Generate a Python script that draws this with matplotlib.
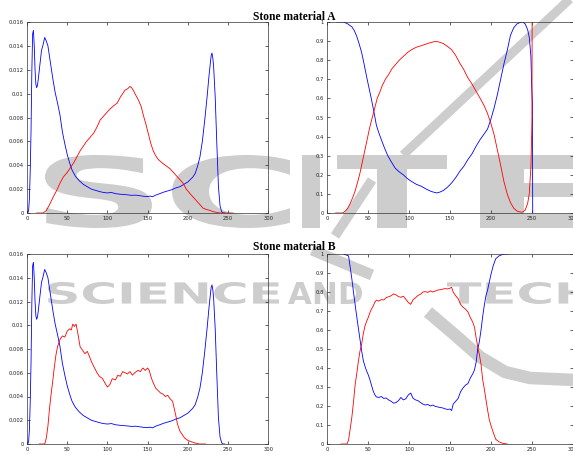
import matplotlib
matplotlib.use("Agg")
import matplotlib.pyplot as plt
import matplotlib.transforms as mtransforms
from matplotlib.font_manager import FontProperties
from matplotlib.patches import PathPatch
from matplotlib.textpath import TextPath
from matplotlib.ticker import FuncFormatter, MultipleLocator

# ---------------------------------------------------------------- data
# grey-level histogram of the background class (same in both materials)
hist_bg_x = [0, 1, 2, 3, 4, 5, 6, 7, 8, 9, 10, 11, 12, 13, 14, 16, 18, 20, 22, 24,
             26, 28, 30, 32, 35, 38, 41, 44, 47, 50, 53, 56, 60, 65, 70, 75, 80, 85, 90, 95,
             100, 105, 110, 115, 120, 125, 130, 135, 140, 145, 150, 153, 156, 160, 165, 170,
             175, 180, 185, 190, 195, 200, 203, 206, 209, 212, 215, 218, 221, 224, 226, 228,
             229, 230, 231, 232, 234, 236, 238, 240, 242, 244, 246]
hist_bg = [0, 0, 0.0002, 0.0012, 0.0035, 0.0068, 0.0118, 0.0150, 0.0153, 0.0140, 0.0120,
           0.0108, 0.0105, 0.0107, 0.0112, 0.0124, 0.0136, 0.0141, 0.0147, 0.0144,
           0.0140, 0.0131, 0.0122, 0.0113, 0.0101, 0.0092, 0.0082, 0.0068, 0.0058, 0.0049,
           0.0042, 0.0036, 0.0031, 0.0027, 0.0024, 0.0022, 0.0020, 0.0019, 0.0018, 0.00172,
           0.00168, 0.00172, 0.00162, 0.00158, 0.00155, 0.00152, 0.00148, 0.0015, 0.00145,
           0.0014, 0.00138, 0.00142, 0.00136, 0.0015, 0.00162, 0.00175, 0.00185, 0.00195,
           0.0021, 0.0022, 0.0024, 0.0026, 0.0028, 0.003, 0.0033, 0.0039, 0.0047, 0.006,
           0.0078, 0.0098, 0.0113, 0.0126, 0.0132, 0.0134, 0.0130, 0.0123, 0.0097, 0.0058,
           0.0022, 0.0006, 0.0001, 0, 0]

# grey-level histogram of stone A
hist_a_x = [12, 20, 24, 28, 33, 37, 41, 45, 50, 54, 58, 62, 66, 70, 74, 78, 83, 87, 91, 95,
            99, 103, 108, 112, 116, 119, 122, 125, 128, 130, 132, 135, 139, 142, 145, 148,
            151, 154, 157, 160, 163, 168, 174, 178, 182, 186, 190, 194, 198, 203, 207, 211,
            215, 219, 223, 228, 232, 236, 240, 256]
hist_a = [0, 0, 0.0002, 0.0007, 0.0014, 0.0019, 0.0025, 0.0030, 0.0034, 0.0038, 0.0042,
          0.0047, 0.0052, 0.0056, 0.0060, 0.0063, 0.0067, 0.0072, 0.0078, 0.0081, 0.0084,
          0.0087, 0.0090, 0.0092, 0.0097, 0.0100, 0.0103, 0.0104, 0.0106, 0.0105, 0.0103,
          0.0099, 0.0094, 0.0089, 0.0081, 0.0074, 0.0066, 0.0058, 0.0052, 0.0048, 0.0045,
          0.0042, 0.0039, 0.0037, 0.0034, 0.0031, 0.0028, 0.0025, 0.0020, 0.0016, 0.0013,
          0.0010, 0.0007, 0.0004, 0.0003, 0.0002, 0.0001, 0.00005, 0, 0]

# grey-level histogram of stone B
hist_b_x = [15, 22, 24, 26, 28, 30, 32, 34, 36, 38, 41, 44, 47, 50, 53, 55, 57, 59, 61, 63,
            66, 69, 72, 75, 78, 81, 84, 87, 90, 94, 98, 100, 103, 106, 110, 113, 116, 119,
            122, 125, 128, 131, 134, 138, 141, 144, 147, 150, 152, 154, 156, 158, 160, 163,
            166, 169, 172, 175, 178, 181, 183, 185, 187, 190, 193, 196, 200, 204, 208, 214, 222]
hist_b = [0, 0, 0.0005, 0.0015, 0.003, 0.0042, 0.0053, 0.0065, 0.0075, 0.0082, 0.0088,
          0.0091, 0.0090, 0.0095, 0.0097, 0.0096, 0.0101, 0.0099, 0.0101, 0.0094, 0.0082,
          0.0079, 0.0076, 0.0078, 0.0073, 0.0068, 0.0064, 0.0060, 0.0057, 0.0055, 0.0050,
          0.0048, 0.0050, 0.0055, 0.0054, 0.0058, 0.0057, 0.0061, 0.0060, 0.0059, 0.0061,
          0.0058, 0.0060, 0.0062, 0.0061, 0.0064, 0.0062, 0.0064, 0.0062, 0.0057, 0.0053,
          0.0050, 0.0047, 0.0045, 0.0043, 0.0042, 0.0040, 0.0041, 0.0038, 0.0036, 0.0030,
          0.0024, 0.0017, 0.0011, 0.0008, 0.0005, 0.0003, 0.0002, 0.0001, 0, 0]

# posterior probabilities, stone A
post_a_bg_x = [12, 20, 25, 30, 33, 36, 39, 42, 45, 48, 51, 54, 57, 60, 63, 66, 70, 74, 78, 83,
               88, 93, 98, 103, 109, 115, 121, 127, 131, 134, 138, 142, 147, 152, 157, 162,
               167, 172, 177, 182, 187, 192, 196, 200, 204, 208, 212, 216, 220, 224, 228,
               232, 236, 239, 242, 245, 247, 249, 250, 250.9, 251.2]
post_a_bg = [1, 1, 0.99, 0.975, 0.955, 0.925, 0.885, 0.84, 0.78, 0.715, 0.655, 0.595, 0.53,
             0.46, 0.42, 0.385, 0.34, 0.3, 0.27, 0.235, 0.215, 0.2, 0.18, 0.165, 0.15, 0.14,
             0.125, 0.113, 0.108, 0.105, 0.11, 0.118, 0.135, 0.157, 0.185, 0.218, 0.245, 0.28,
             0.31, 0.35, 0.385, 0.415, 0.44, 0.49, 0.55, 0.62, 0.7, 0.78, 0.85, 0.93, 0.97,
             0.99, 0.998, 1, 0.99, 0.96, 0.92, 0.82, 0.66, 0.57, 0]
post_a_x = [10, 19, 22, 25, 28, 31, 34, 37, 40, 43, 46, 49, 52, 55, 58, 61, 64, 67, 71, 75,
            79, 83, 88, 93, 98, 103, 109, 115, 121, 127, 131, 134, 138, 142, 147, 152, 157,
            162, 167, 172, 177, 182, 187, 192, 196, 200, 204, 208, 212, 216, 220, 224, 228,
            232, 236, 239, 242, 245, 247, 249, 250, 250.3, 250.5]
post_a = [0, 0, 0.01, 0.025, 0.05, 0.08, 0.115, 0.16, 0.21, 0.27, 0.33, 0.39, 0.45, 0.5,
          0.55, 0.6, 0.63, 0.665, 0.7, 0.725, 0.755, 0.775, 0.8, 0.82, 0.84, 0.855, 0.868,
          0.876, 0.885, 0.893, 0.897, 0.898, 0.893, 0.887, 0.872, 0.855, 0.825, 0.785, 0.75,
          0.707, 0.675, 0.637, 0.6, 0.56, 0.52, 0.47, 0.41, 0.33, 0.25, 0.165, 0.1, 0.055,
          0.025, 0.01, 0.005, 0.005, 0.015, 0.05, 0.1, 0.24, 0.42, 0.5, 1.0]

# posterior probabilities, stone B
post_b_bg_x = [20, 26, 28, 30, 32, 34, 36, 38, 40, 42, 44, 46, 48, 50, 52, 54, 56, 58, 60, 63,
               66, 69, 72, 75, 78, 81, 84, 87, 90, 93, 96, 99, 102, 105, 108, 111, 114, 117,
               120, 123, 126, 129, 132, 135, 138, 141, 144, 147, 150, 152, 154, 157, 160, 163,
               166, 169, 172, 175, 178, 180, 182, 184, 186, 188, 190, 192, 194, 196, 198, 200,
               203, 206, 210, 214, 218, 222]
post_b_bg = [1.0, 0.99, 0.93, 0.87, 0.80, 0.735, 0.67, 0.61, 0.55, 0.49, 0.44, 0.41, 0.385,
             0.365, 0.34, 0.31, 0.28, 0.26, 0.248, 0.245, 0.25, 0.24, 0.242, 0.232, 0.225,
             0.215, 0.218, 0.228, 0.245, 0.232, 0.238, 0.258, 0.268, 0.24, 0.232, 0.228,
             0.218, 0.21, 0.205, 0.208, 0.2, 0.205, 0.198, 0.195, 0.192, 0.19, 0.185, 0.182,
             0.184, 0.176, 0.21, 0.225, 0.24, 0.275, 0.295, 0.31, 0.318, 0.348, 0.37, 0.39,
             0.43, 0.5, 0.54, 0.6, 0.67, 0.73, 0.78, 0.81, 0.85, 0.89, 0.94, 0.975, 0.99,
             0.997, 1.0, 1.0]
post_b_x = [17, 24, 26, 28, 30, 32, 34, 36, 38, 40, 42, 44, 46, 48, 50, 52, 54, 56, 58, 60,
            63, 66, 69, 72, 75, 78, 81, 84, 87, 90, 93, 96, 99, 102, 105, 108, 111, 114, 117,
            120, 123, 126, 129, 132, 135, 138, 141, 144, 147, 150, 152, 154, 157, 160, 163,
            166, 169, 172, 175, 178, 180, 182, 184, 186, 188, 190, 192, 194, 196, 198, 200,
            203, 206, 210, 214, 220]
post_b = [0, 0, 0.02, 0.08, 0.14, 0.22, 0.31, 0.37, 0.435, 0.49, 0.525, 0.58, 0.62, 0.645,
          0.665, 0.69, 0.71, 0.725, 0.745, 0.757, 0.752, 0.76, 0.758, 0.77, 0.775, 0.78,
          0.79, 0.785, 0.776, 0.772, 0.778, 0.762, 0.745, 0.735, 0.76, 0.77, 0.782, 0.788,
          0.8, 0.802, 0.798, 0.806, 0.8, 0.805, 0.81, 0.812, 0.815, 0.818, 0.816, 0.82,
          0.825, 0.8, 0.78, 0.765, 0.735, 0.72, 0.71, 0.695, 0.665, 0.64, 0.615, 0.56, 0.51,
          0.47, 0.42, 0.34, 0.29, 0.235, 0.18, 0.13, 0.1, 0.06, 0.025, 0.012, 0.004, 0]

titles = ["Stone material A", "Stone material B"]

BLUE, RED, WM = "#0000ff", "#ff0000", "#cdcdcd"
W, H = 573, 455


def stamp(ax, s, x0, x1, y0, y1):
    # watermark word stretched into a pixel box
    tp = TextPath((0, 0), s, size=10, prop=FontProperties(family="DejaVu Sans", weight="bold"))
    bb = tp.get_extents()
    tr = (mtransforms.Affine2D().translate(-bb.x0, -bb.y0)
          .scale((x1 - x0) / bb.width, -(y1 - y0) / bb.height).translate(x0, y1))
    ax.add_patch(PathPatch(tr.transform_path(tp), fc=WM, ec="none", lw=0))


def style(ax, ymax, ystep):
    ax.set_facecolor("none")
    ax.set_xlim(0, 300)
    ax.set_ylim(0, ymax)
    ax.xaxis.set_major_locator(MultipleLocator(50))
    ax.yaxis.set_major_locator(MultipleLocator(ystep))
    fmt = FuncFormatter(lambda v, p: f"{v:.4g}")
    ax.xaxis.set_major_formatter(fmt)
    ax.yaxis.set_major_formatter(fmt)
    ax.tick_params(direction="in", length=2, width=0.5, top=True, right=True,
                   labelsize=3.8, pad=2.5, colors="#222222")
    for sp in ax.spines.values():
        sp.set_linewidth(0.5)
        sp.set_color("#333333")


fig = plt.figure(figsize=(W / 100, H / 100), dpi=100)

# watermark layer (pixel coordinates, y downwards)
bg = fig.add_axes([0, 0, 1, 1], zorder=-5)
bg.set_xlim(0, W)
bg.set_ylim(H, 0)
bg.axis("off")
for s, x0, x1 in [("S", 45, 152), ("C", 172, 290), ("I", 302, 320), ("T", 337, 447),
                  ("E", 480, 600)]:
    stamp(bg, s, x0, x1, 155, 228)
for s, x0, x1 in [("SCIENCE", 48, 279), ("AND", 288, 362), ("TECH", 447, 592)]:
    stamp(bg, s, x0, x1, 282, 304)
bg.plot([572, 403], [-3, 155], color=WM, lw=6.5, solid_capstyle="butt")
bg.plot([372, 335], [180, 236], color=WM, lw=7, solid_capstyle="butt")
bg.plot([312, 372], [250, 275], color=WM, lw=8, solid_capstyle="butt")
bg.plot([428, 455, 480, 505, 530, 575], [312, 335, 357, 372, 378, 380], color=WM, lw=9,
        solid_capstyle="butt", solid_joinstyle="round")


def px_axes(x0, x1, y0, y1):
    return fig.add_axes([x0 / W, (H - y1) / H, (x1 - x0) / W, (y1 - y0) / H])


ax_ha = px_axes(27, 268.3, 22, 213)
ax_pa = px_axes(327.3, 572.6, 22, 213)
ax_hb = px_axes(27, 268.3, 254, 444)
ax_pb = px_axes(327.3, 572.6, 254, 444)

lw = 0.6
ax_ha.plot(hist_bg_x, hist_bg, color=BLUE, lw=lw)
ax_ha.plot(hist_a_x, hist_a, color=RED, lw=lw)
ax_hb.plot(hist_bg_x, hist_bg, color=BLUE, lw=lw)
ax_hb.plot(hist_b_x, hist_b, color=RED, lw=lw)
ax_pa.plot(post_a_bg_x, post_a_bg, color=BLUE, lw=lw)
ax_pa.plot(post_a_x, post_a, color=RED, lw=lw)
ax_pb.plot(post_b_bg_x, post_b_bg, color=BLUE, lw=lw)
ax_pb.plot(post_b_x, post_b, color=RED, lw=lw)

for ax in (ax_ha, ax_hb):
    style(ax, 0.016, 0.002)
for ax in (ax_pa, ax_pb):
    style(ax, 1.0, 0.1)

for t, yb in zip(titles, (20, 250)):
    fig.text(294 / W, 1 - yb / H, t, ha="center", va="baseline", fontsize=8.3,
             fontweight="bold", family="Liberation Serif")

fig.savefig("out.png", dpi=100)
